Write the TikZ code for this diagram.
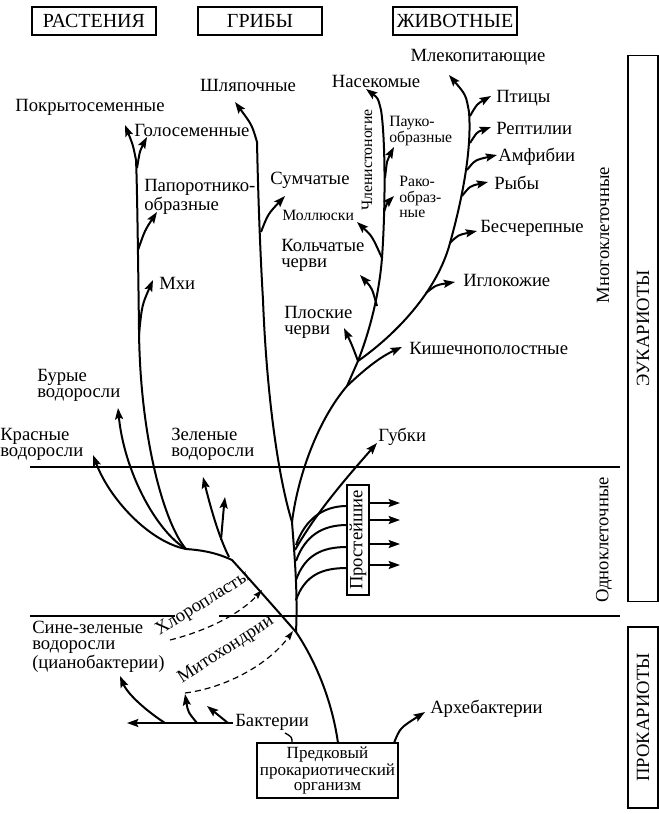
\documentclass[tikz,border=0pt]{standalone}
\usepackage{fontspec}
\setmainfont{Liberation Serif}
\usetikzlibrary{arrows.meta}

\tikzset{
  lbl/.style={inner sep=0pt, font=\fontsize{14}{12}\selectfont},
  lblw/.style={lbl, anchor=west, align=left},
  sml/.style={inner sep=0pt, anchor=west, align=left, font=\fontsize{11.8}{11.5}\selectfont},
  topbox/.style={draw, line width=0.8pt, minimum width=93pt, minimum height=21pt, inner sep=0pt, font=\fontsize{15}{12}\selectfont},
  sidebox/.style={draw, line width=0.8pt, rotate=90, minimum height=22.5pt, inner sep=0pt, font=\fontsize{14}{12}\selectfont},
  ln/.style={line width=1.5pt},
  br/.style={ln, -{Stealth[length=8.5pt,width=6pt,inset=1.5pt]}},
  dsh/.style={line width=0.9pt, dash pattern=on 4.5pt off 3pt, -{Stealth[length=7pt,width=4.5pt,inset=1pt]}},
}

\begin{document}
\begin{tikzpicture}[x=0.75pt,y=0.75pt,yscale=-1]
    \useasboundingbox (0,0) rectangle (659,814);

        \node[topbox] (plants) at (94,21) {РАСТЕНИЯ};
        \node[topbox] (fungi) at (260,21) {ГРИБЫ};
        \node[topbox] (animals) at (455,21) {ЖИВОТНЫЕ};
        \node[sidebox, minimum width=410pt] (euk) at (643,328.5) {ЭУКАРИОТЫ};
        \node[sidebox, minimum width=135.75pt] (prok) at (643,717.5) {ПРОКАРИОТЫ};
        \node[lbl, rotate=90] (multi) at (603,235) {Многоклеточные};
        \node[lbl, rotate=90] (uni) at (604,540) {Одноклеточные};

        \draw[line width=1.1pt] (30,467) -- (620,467);
        \draw[line width=1.1pt] (30,616) -- (175,616) (219,616) -- (620,616);

        \node[draw, line width=1.6pt, minimum width=106pt, minimum height=41pt, inner sep=0pt, align=center, font=\fontsize{12.8}{11.3}\selectfont] (root) at (327.5,770.5) {Предковый\\прокариотический\\организм};
        \node[draw, line width=1.4pt, rotate=90, minimum width=82.5pt, minimum height=16.5pt, inner sep=0pt, font=\fontsize{14}{12}\selectfont] (prot) at (358,540) {Простейшие};

        \coordinate (t0) at (338,743);
        \coordinate (j0) at (296,632);
        \coordinate (pl) at (232,560);
        \coordinate (jp) at (186,549);
        \coordinate (jl) at (139,330);
        \coordinate (ja) at (292,522);
        \coordinate (jf) at (263,300);
        \coordinate (jb) at (347,386);
        \coordinate (jc) at (358,361);
        \coordinate (jd) at (382,258);
        \coordinate (je) at (450,243);

        % trunk and plants
        \draw[ln] (t0) .. controls (332,700) and (315,660) .. (j0) .. controls (275,608) and (252,582) .. (pl) .. controls (215,552) and (200,550) .. (jp);
        \draw[ln] (j0) .. controls (298,590) and (294,550) .. (ja);
        \draw[br] (jp) .. controls (150,542) and (110,500) .. (93,455);
        \draw[br] (jp) .. controls (155,530) and (124,470) .. (118,408);
        \draw[ln] (jp) .. controls (165,525) and (140,440) .. (jl);
        \draw[br] (jl) .. controls (138,250) and (137,180) .. (136,160) .. controls (133,145) .. (125,125);
        \draw[br] (229,557) .. controls (218,535) and (210,505) .. (203,477);
        \draw[br] (221,540) .. controls (222,522) .. (225,497);
        \draw[br] (139,334) .. controls (142,305) .. (153,280);
        \draw[br] (138,250) .. controls (145,230) .. (157,212);
        \draw[br] (137,168) .. controls (140,150) .. (147,137);

        % fungi
        \draw[br] (ja) .. controls (276,470) and (266,380) .. (jf) .. controls (260,250) and (258,190) .. (257,142) .. controls (252,125) .. (235,102);
        \draw[br] (261,232) .. controls (268,214) .. (285,196);

        % animals
        \draw[ln] (ja) .. controls (298,475) and (318,420) .. (jb) -- (jc);
        \draw[br] (jb) .. controls (365,369) and (380,357) .. (402,347);
        \draw[ln] (jc) .. controls (370,330) and (379,295) .. (jd);
        \draw[br] (jd) .. controls (386,200) and (385,135) .. (381,110) .. controls (378,98) .. (366,89);
        \draw[br] (jc) .. controls (352,345) .. (344,328);
        \draw[br] (377,306) .. controls (372,288) .. (360,275);
        \draw[br] (jd) .. controls (372,236) .. (357,222);
        \draw[br] (384,212) .. controls (387,203) .. (394,196);
        \draw[br] (385,178) .. controls (387,160) .. (394,147);
        \draw[ln] (jc) .. controls (395,335) and (437,292) .. (je);
        \draw[br] (426,293) .. controls (436,285) .. (455,282);
        \draw[br] (je) .. controls (458,235) .. (477,231);
        \draw[br] (je) .. controls (462,200) and (472,150) .. (469,112) .. controls (466,95) .. (449,75);
        \draw[br] (462,196) .. controls (470,186) .. (488,182);
        \draw[br] (467,170) .. controls (475,160) .. (497,155);
        \draw[br] (470,143) .. controls (477,132) .. (491,127);
        \draw[br] (470,116) .. controls (477,104) .. (491,96);

        % protists
        \foreach \s/\e in {600/568, 580/547, 561/525, 545/506}
            \draw[ln] (296,\s) .. controls (305,\s-25) and (322,\e) .. (347,\e);
        \foreach \y in {503,520,544,565}
            \draw[br] (369,\y) -- (400,\y);
        \draw[br] (295,550) .. controls (315,515) and (340,485) .. (377,443);

        % prokaryotes
        \draw[br] (394,743) .. controls (400,728) .. (425,712);
        \draw[line width=1pt] (292,743) .. controls (292,737) .. (285,733);
        \draw[br] (233,723) -- (127,723);
        \draw[br] (165,723) .. controls (148,712) and (128,695) .. (120,676);
        \draw[br] (197,723) .. controls (188,712) .. (185,694);
        \draw[br] (228,723) -- (207,706);
        \draw[dsh] (185,693) .. controls (225,688) and (268,665) .. (293,631);
        \draw[dsh] (170,640) .. controls (210,630) and (242,612) .. (262,590);

        \node[lbl] (angio) at (90,107) {Покрытосеменные};
        \node[lbl] (gymno) at (192,130) {Голосеменные};
        \node[lblw] (ferns) at (144,197) {Папоротнико-\\образные};
        \node[lblw] (moss) at (159,283) {Мхи};
        \node[lblw] (brown) at (37,385) {Бурые\\водоросли};
        \node[lblw] (red) at (0,444) {Красные\\водоросли};
        \node[lblw] (green) at (171,444) {Зеленые\\водоросли};
        \node[lbl] (hat) at (248,85) {Шляпочные};
        \node[lbl] (marsup) at (310,180) {Сумчатые};
        \node[sml] (mollus) at (282,215) {Моллюски};
        \node[lblw] (annel) at (281,255) {Кольчатые\\черви};
        \node[lblw] (flat) at (284,322) {Плоские\\черви};
        \node[lbl] (insect) at (376,81) {Насекомые};
        \node[sml, anchor=center, rotate=90] (arthro) at (367,160) {Членистоногие};
        \node[sml] (arach) at (389,131) {Пауко-\\образные};
        \node[sml] (crust) at (399,197) {Рако-\\образ-\\ные};
        \node[lbl] (mammal) at (478,57) {Млекопитающие};
        \node[lblw] (birds) at (496,98) {Птицы};
        \node[lblw] (rept) at (496,128) {Рептилии};
        \node[lblw] (amph) at (498,157) {Амфибии};
        \node[lblw] (fish) at (494,183) {Рыбы};
        \node[lblw] (acran) at (480,228) {Бесчерепные};
        \node[lblw] (echin) at (463,280) {Иглокожие};
        \node[lblw] (coel) at (409,348) {Кишечнополостные};
        \node[lblw] (spong) at (378,437) {Губки};
        \node[lblw] (cyano) at (32,647) {Сине-зеленые\\водоросли\\(цианобактерии)};
        \node[lblw] (bact) at (235,722) {Бактерии};
        \node[lblw] (archae) at (430,709) {Архебактерии};
        \node[lbl, rotate=32] (chloro) at (203,604) {Хлоропласты};
        \node[lbl, rotate=33] (mito) at (226,650) {Митохондрии};
\end{tikzpicture}
\end{document}
